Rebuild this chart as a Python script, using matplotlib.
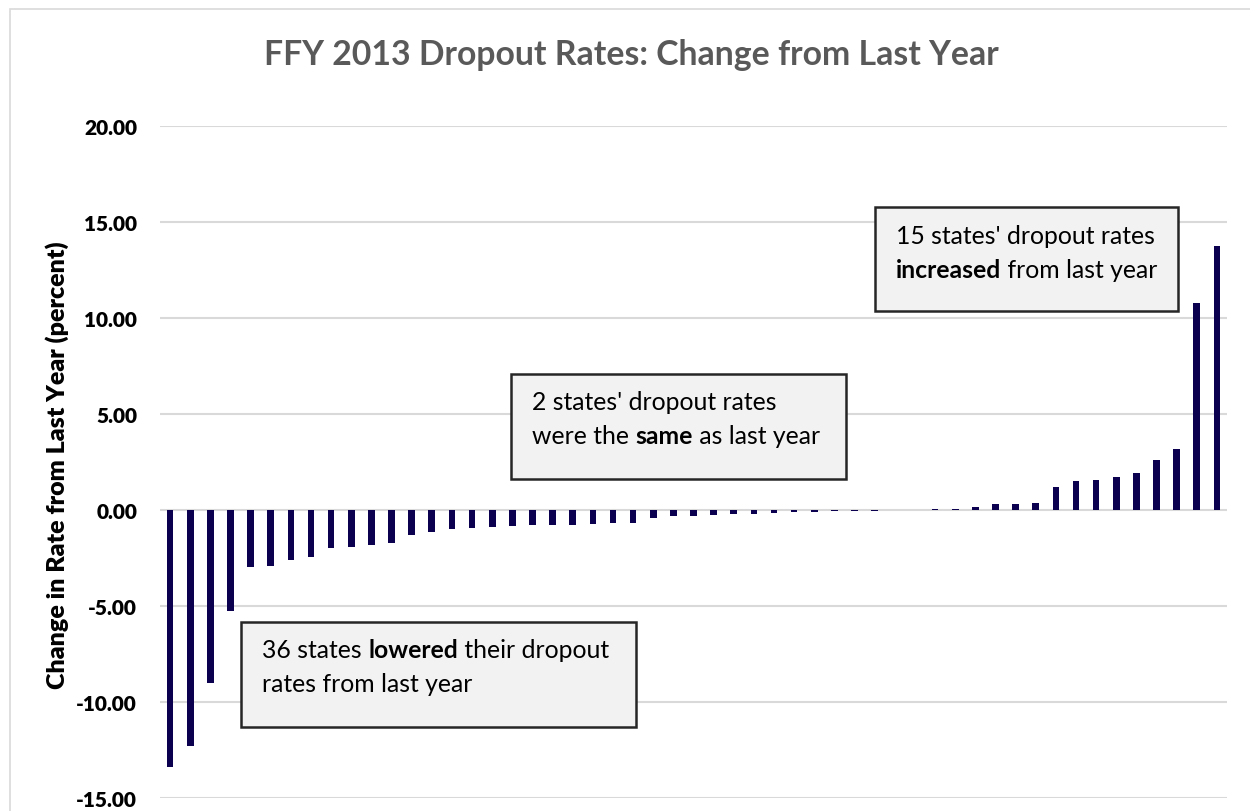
import matplotlib.pyplot as plt
import matplotlib.patches as patches
import numpy as np

plt.rcParams['font.family'] = ['Lato', 'DejaVu Sans']

# change in dropout rate per state, sorted low to high
changes = [
    -13.40, -12.30, -9.03, -5.24, -2.98, -2.93, -2.59, -2.45, -1.98, -1.94,
    -1.81, -1.70, -1.32, -1.13, -0.99, -0.95, -0.89, -0.81, -0.79, -0.77,
    -0.76, -0.72, -0.67, -0.67, -0.43, -0.32, -0.29, -0.27, -0.20, -0.20,
    -0.15, -0.11, -0.10, -0.06, -0.03, -0.03,
    0.00, 0.00,
    0.03, 0.05, 0.18, 0.32, 0.32, 0.37, 1.20, 1.50, 1.57, 1.71, 1.92,
    2.59, 3.20, 10.77, 13.75,
]
yticks = [-15, -10, -5, 0, 5, 10, 15, 20]

title = 'FFY 2013 Dropout Rates: Change from Last Year'
ylabel = 'Change in Rate from Last Year (percent)'

# callout boxes: (left, top, right, bottom) in pixels from top-left, lines of (text, weight)
callouts = [
    ((241, 623, 636, 728), [
        [('36 states ', 'normal'), ('lowered', 'bold'), (' their dropout', 'normal')],
        [('rates from last year', 'normal')],
    ]),
    ((511, 375, 846, 480), [
        [("2 states' dropout rates", 'normal')],
        [('were the ', 'normal'), ('same', 'bold'), (' as last year', 'normal')],
    ]),
    ((875, 208, 1178, 312), [
        [("15 states' dropout rates", 'normal')],
        [('increased', 'bold'), (' from last year', 'normal')],
    ]),
]

W, H = 1250, 812
fig = plt.figure(figsize=(W / 100, H / 100), dpi=100)

# light outer chart border
fig.patches.append(patches.Rectangle((10 / W, -0.05), 1.1, 1 - 10 / H + 0.05,
                                     transform=fig.transFigure, fill=False,
                                     edgecolor='#d9d9d9', lw=1.2))

ax = fig.add_axes([160 / W, 13 / H, 1067 / W, 672 / H])
x = np.arange(len(changes))
ax.bar(x, changes, width=0.33, color='#0b0050', zorder=3)
ax.set_xlim(-0.5, len(changes) - 0.5)
ax.set_ylim(-15, 20)
ax.set_yticks(yticks)
ax.set_yticklabels([f'{v:.2f}' for v in yticks], fontsize=15, fontweight='heavy')
ax.tick_params(axis='y', length=0, pad=16.5)
ax.set_xticks([])
ax.yaxis.grid(True, color='#d9d9d9', lw=1.5, zorder=0)
for s in ax.spines.values():
    s.set_visible(False)

fig.text(631 / W, 1 - 55 / H, title, ha='center', va='center',
         fontsize=24.3, fontweight='bold', color='#595959')
fig.text(57 / W, 1 - 465 / H, ylabel, rotation=90, ha='center', va='center',
         fontsize=18, fontweight='heavy')

fig.canvas.draw()
renderer = fig.canvas.get_renderer()


def text_width(s, weight, size):
    # bracket the string so leading/trailing spaces are measured too
    t1 = fig.text(0, 0, '|' + s + '|', fontsize=size, fontweight=weight)
    t2 = fig.text(0, 0, '||', fontsize=size, fontweight=weight)
    w = t1.get_window_extent(renderer).width - t2.get_window_extent(renderer).width
    t1.remove()
    t2.remove()
    return w


size = 17.8
for (l, t, r, b), lines in callouts:
    fig.patches.append(patches.Rectangle((l / W, 1 - b / H), (r - l) / W, (b - t) / H,
                                         transform=fig.transFigure, facecolor='#f2f2f2',
                                         edgecolor='#262626', lw=1.8, zorder=5))
    for i, parts in enumerate(lines):
        px = l + 21
        py = t + 28 + i * 34
        for s, w in parts:
            fig.text(px / W, 1 - py / H, s, fontsize=size, fontweight=w,
                     ha='left', va='center', color='#000000', zorder=6)
            px += text_width(s, w, size)

fig.savefig('out.png', dpi=100)
